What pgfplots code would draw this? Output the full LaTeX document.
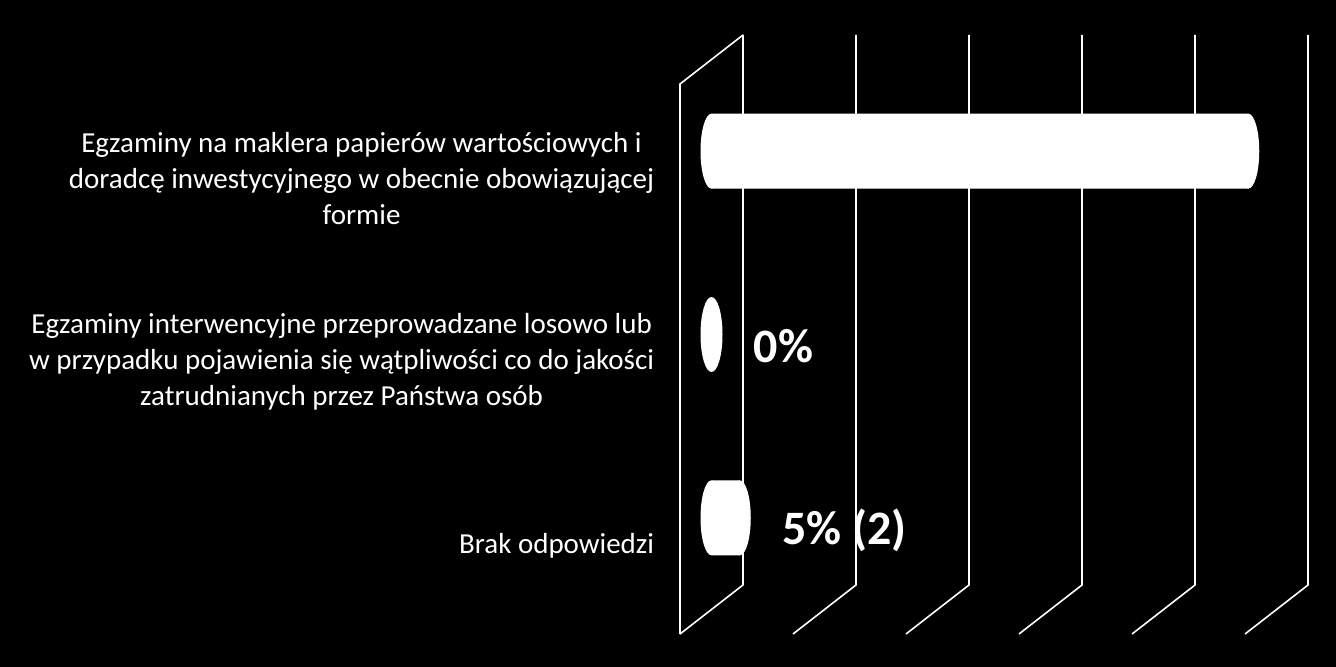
\documentclass[border=0pt]{standalone}
\usepackage{fontspec}
\setmainfont{Carlito}
\usepackage{pgfplots}
\pgfplotsset{compat=1.18}

% elliptic end of a cylinder bar
\pgfdeclareplotmark{cap}{%
  \pgfpathellipse{\pgfpointorigin}{\pgfqpoint{5.5pt}{0pt}}{\pgfqpoint{0pt}{18.75pt}}%
  \pgfusepathqfill}

\begin{document}
\begin{tikzpicture}
\useasboundingbox (0,0) rectangle (668pt,333.5pt);
\fill[black] (0,0) rectangle (668pt,333.5pt);
\begin{axis}[
  at={(355.75pt,28.75pt)}, anchor=south west,
  scale only axis, width=282.5pt, height=275pt,
  xmin=0, xmax=100, ymin=-0.5, ymax=2.5, y dir=reverse,
  axis line style={draw=none},
  xtick=\empty,
  ytick={0,1,2},
  major tick length=0pt,
  yticklabels={{Egzaminy na maklera papierów wartościowych i\\doradcę inwestycyjnego w obecnie obowiązującej\\formie},
               {Egzaminy interwencyjne przeprowadzane losowo lub\\w przypadku pojawienia się wątpliwości co do jakości\\zatrudnianych przez Państwa osób},
               {Brak odpowiedzi}},
  yticklabel style={text=white, anchor=east, align=center, inner sep=0pt,
    font=\fontsize{14.5}{18}\selectfont, xshift=-28.5pt, yshift=-13.75pt},
  clip=false,
]
% back wall and floor lines
\pgfplotsinvokeforeach{0,20,40,60,80,100}{
  \draw[white, line width=0.8pt]
    ([shift={(15.75pt,12.25pt)}]axis cs:#1,-0.5) --
    ([shift={(15.75pt,12.25pt)}]axis cs:#1,2.5) --
    ([shift={(-15.75pt,-12.25pt)}]axis cs:#1,2.5);
}
% left wall
\draw[white, line width=0.8pt]
  ([shift={(15.75pt,12.25pt)}]axis cs:0,-0.5) --
  ([shift={(-15.75pt,-12.25pt)}]axis cs:0,-0.5) --
  ([shift={(-15.75pt,-12.25pt)}]axis cs:0,2.5);

\addplot[xbar, bar width=37.5pt, fill=white, draw=none,
  nodes near coords, point meta=explicit symbolic,
  every node near coord/.append style={text=white, anchor=west, inner sep=0pt,
    font=\fontsize{24}{28}\selectfont\bfseries, xshift=21pt, yshift=-6pt}]
  coordinates {(95,0) [] (0,1) [0\%] (5,2) [5\% (2)]};
\addplot[only marks, mark=cap, mark options={fill=white, draw=none}]
  coordinates {(0,0) (95,0) (0,1) (0,2) (5,2)};
\end{axis}
\end{tikzpicture}
\end{document}
